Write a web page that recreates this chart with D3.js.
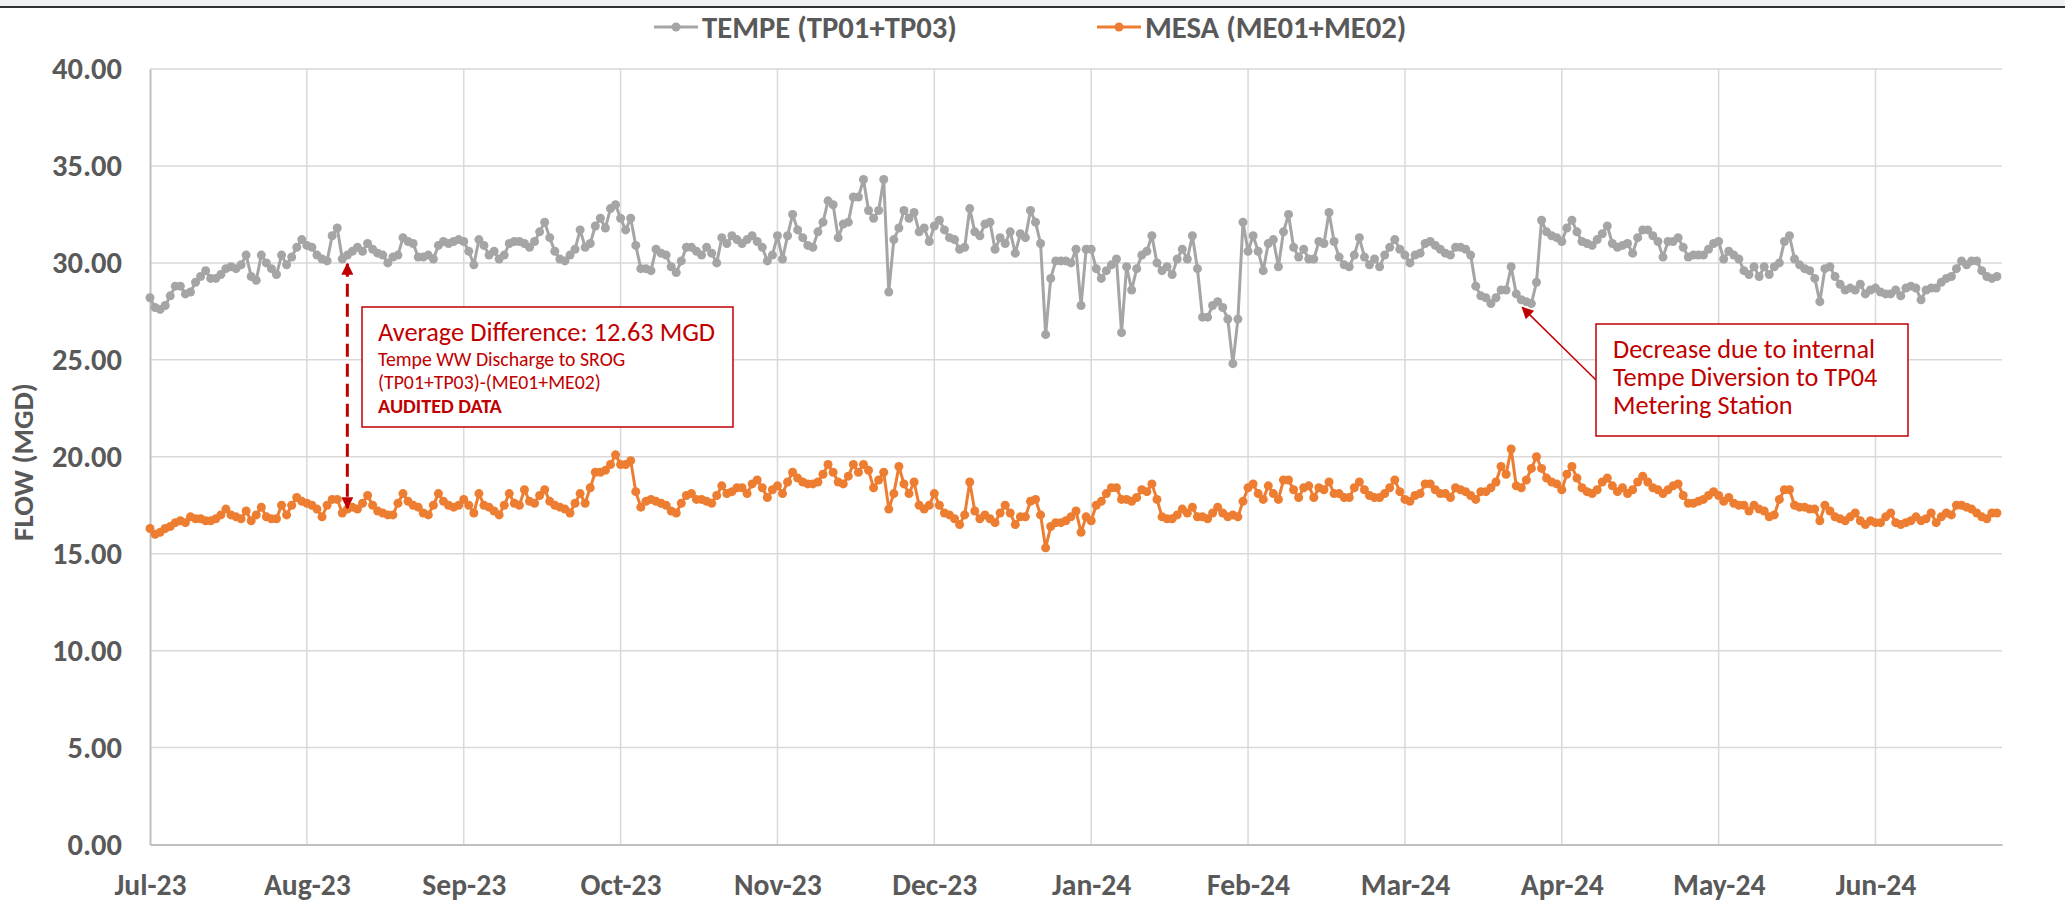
<!DOCTYPE html>
<html>
<head>
<meta charset="utf-8">
<script src="https://cdn.jsdelivr.net/npm/d3@7"></script>
<style>
  body { margin: 0; background: #fff; }
  svg { display: block; }
</style>
</head>
<body>
<div id="chart"></div>
<script>
// daily flows, Jul 1 2023 .. Jun 30 2024 (MGD)
const startDate = new Date(2023, 6, 1);
const endDate = new Date(2024, 6, 1);

const tempeFlow = [
  28.2, 27.7, 27.6, 27.8, 28.3, 28.8, 28.8, 28.4, 28.5, 29.0,
  29.3, 29.6, 29.2, 29.2, 29.4, 29.7, 29.8, 29.7, 29.9, 30.4,
  29.3, 29.1, 30.4, 30.0, 29.7, 29.4, 30.4, 29.9, 30.3, 30.8,
  31.2, 30.9, 30.8, 30.4, 30.2, 30.1, 31.4, 31.8, 30.2, 30.4,
  30.6, 30.8, 30.6, 31.0, 30.7, 30.5, 30.4, 30.0, 30.3, 30.4,
  31.3, 31.1, 31.0, 30.3, 30.3, 30.4, 30.2, 30.9, 31.1, 31.0,
  31.1, 31.2,
  31.1, 30.6, 29.9, 31.2, 30.9, 30.4, 30.6, 30.2, 30.4, 31.0,
  31.1, 31.1, 31.0, 30.8, 31.1, 31.6, 32.1, 31.3, 30.6, 30.2,
  30.1, 30.4, 30.7, 31.7, 30.8, 31.0, 31.9, 32.3, 31.8, 32.8,
  33.0, 32.3, 31.7, 32.3, 30.9, 29.7, 29.7, 29.6, 30.7, 30.5,
  30.4, 29.8, 29.5, 30.1, 30.8, 30.8, 30.6, 30.4, 30.8, 30.5,
  30.0, 31.3, 31.0, 31.4, 31.2, 31.0, 31.2, 31.4, 31.1, 30.8,
  30.1,
  30.4, 31.4, 30.2, 31.4, 32.5, 31.7, 31.3, 30.9, 30.8, 31.6,
  32.1, 33.2, 33.0, 31.3, 32.0, 32.1, 33.4, 33.4, 34.3, 32.7,
  32.3, 32.7, 34.3, 28.5, 31.2, 31.8, 32.7, 32.3, 32.6, 31.6,
  31.8, 31.1, 31.9, 32.2, 31.7, 31.3, 31.2, 30.7, 30.8, 32.8,
  31.6, 31.4, 32.0, 32.1, 30.7, 31.3, 31.0, 31.6, 30.5, 31.5,
  31.3, 32.7, 32.1, 31.0, 26.3, 29.2, 30.1, 30.1, 30.1, 30.0,
  30.7,
  27.8, 30.7, 30.7, 29.7, 29.2, 29.6, 29.9, 30.2, 26.4, 29.8,
  28.6, 29.7, 30.4, 30.6, 31.4, 30.0, 29.6, 29.8, 29.4, 30.2,
  30.7, 30.2, 31.4, 29.7, 27.2, 27.2, 27.8, 28.0, 27.7, 27.1,
  24.8, 27.1, 32.1, 30.6, 31.4, 30.6, 29.6, 31.0, 31.2, 29.8,
  31.6, 32.5, 30.8, 30.3, 30.7, 30.2, 30.2, 31.1, 31.0, 32.6,
  31.1, 30.3, 29.9, 29.8, 30.4, 31.3, 30.3, 29.9, 30.2, 29.8,
  30.4, 30.8,
  31.2, 30.7, 30.4, 30.0, 30.4, 30.5, 31.0, 31.1, 30.9, 30.7,
  30.5, 30.4, 30.8, 30.8, 30.7, 30.4, 28.8, 28.3, 28.2, 27.9,
  28.2, 28.6, 28.6, 29.8, 28.4, 28.1, 28.0, 27.9, 29.0, 32.2,
  31.6, 31.4, 31.3, 31.1, 31.8, 32.2, 31.6, 31.1, 31.0, 30.9,
  31.2, 31.5, 31.9, 31.0, 30.8, 30.9, 31.0, 30.5, 31.3, 31.7,
  31.7, 31.4, 31.1, 30.3, 31.1, 31.1, 31.3, 30.8, 30.3, 30.4,
  30.4,
  30.4, 30.7, 31.0, 31.1, 30.2, 30.6, 30.4, 30.2, 29.6, 29.4,
  29.8, 29.3, 29.8, 29.4, 29.8, 30.0, 31.1, 31.4, 30.2, 29.9,
  29.7, 29.6, 29.2, 28.0, 29.7, 29.8, 29.3, 28.9, 28.6, 28.7,
  28.6, 28.9, 28.4, 28.6, 28.7, 28.5, 28.4, 28.4, 28.6, 28.3,
  28.7, 28.8, 28.7, 28.1, 28.6, 28.7, 28.7, 29.0, 29.2, 29.3,
  29.7, 30.1, 29.9, 30.1, 30.1, 29.6, 29.3, 29.2, 29.3
];

const mesaFlow = [
  16.3, 16.0, 16.1, 16.3, 16.4, 16.6, 16.7, 16.6, 16.9, 16.8,
  16.8, 16.7, 16.7, 16.8, 17.0, 17.3, 17.0, 16.9, 16.8, 17.2,
  16.7, 17.0, 17.4, 16.9, 16.8, 16.8, 17.5, 17.0, 17.5, 17.9,
  17.7, 17.6, 17.5, 17.3, 16.9, 17.5, 17.8, 17.8, 17.1, 17.3,
  17.4, 17.3, 17.6, 18.0, 17.5, 17.2, 17.1, 17.0, 17.0, 17.6,
  18.1, 17.7, 17.5, 17.4, 17.1, 17.0, 17.5, 18.1, 17.7, 17.5,
  17.4, 17.5,
  17.8, 17.5, 17.1, 18.1, 17.5, 17.4, 17.2, 17.0, 17.5, 18.1,
  17.6, 17.5, 18.3, 17.7, 17.6, 18.0, 18.3, 17.7, 17.5, 17.4,
  17.3, 17.1, 17.6, 18.1, 17.6, 18.4, 19.2, 19.2, 19.3, 19.6,
  20.1, 19.6, 19.6, 19.8, 18.2, 17.4, 17.7, 17.8, 17.7, 17.6,
  17.5, 17.2, 17.1, 17.6, 18.0, 18.1, 17.8, 17.8, 17.7, 17.6,
  18.0, 18.5, 18.1, 18.2, 18.4, 18.4, 18.1, 18.6, 18.8, 18.4,
  17.9,
  18.3, 18.5, 18.1, 18.7, 19.2, 18.9, 18.7, 18.6, 18.6, 18.7,
  19.1, 19.6, 19.2, 18.7, 18.6, 19.0, 19.6, 19.2, 19.6, 19.3,
  18.4, 18.8, 19.2, 17.3, 18.1, 19.5, 18.6, 18.1, 18.7, 17.5,
  17.3, 17.5, 18.1, 17.5, 17.1, 17.0, 16.8, 16.5, 17.0, 18.7,
  17.2, 16.8, 17.0, 16.8, 16.6, 17.1, 17.5, 17.1, 16.5, 16.9,
  16.9, 17.7, 17.8, 17.0, 15.3, 16.4, 16.6, 16.6, 16.7, 16.9,
  17.2,
  16.1, 16.9, 16.7, 17.5, 17.7, 18.1, 18.4, 18.4, 17.8, 17.8,
  17.7, 17.9, 18.3, 18.2, 18.6, 17.8, 16.9, 16.8, 16.8, 17.0,
  17.3, 17.1, 17.4, 16.9, 16.9, 16.8, 17.1, 17.4, 17.1, 16.9,
  17.0, 16.9, 17.7, 18.4, 18.6, 18.1, 17.8, 18.5, 18.1, 17.8,
  18.8, 18.8, 18.3, 17.9, 18.4, 18.5, 17.9, 18.4, 18.3, 18.7,
  18.1, 18.1, 17.9, 17.9, 18.4, 18.7, 18.3, 18.0, 17.9, 17.9,
  18.1, 18.4,
  18.8, 18.2, 17.8, 17.7, 18.0, 18.1, 18.6, 18.6, 18.3, 18.1,
  18.1, 17.9, 18.4, 18.3, 18.2, 18.0, 17.8, 18.2, 18.2, 18.4,
  18.7, 19.5, 19.1, 20.4, 18.5, 18.4, 18.8, 19.4, 20.0, 19.4,
  18.9, 18.7, 18.6, 18.3, 19.1, 19.5, 18.9, 18.4, 18.2, 18.1,
  18.3, 18.7, 18.9, 18.5, 18.2, 18.4, 18.1, 18.3, 18.7, 19.0,
  18.7, 18.4, 18.3, 18.1, 18.3, 18.5, 18.6, 18.0, 17.6, 17.6,
  17.7,
  17.8, 18.0, 18.2, 18.0, 17.7, 17.9, 17.6, 17.5, 17.5, 17.2,
  17.5, 17.3, 17.2, 16.9, 17.0, 17.8, 18.3, 18.3, 17.5, 17.4,
  17.4, 17.3, 17.3, 16.7, 17.5, 17.2, 16.9, 16.8, 16.7, 16.9,
  17.1, 16.7, 16.5, 16.7, 16.6, 16.6, 16.9, 17.1, 16.6, 16.5,
  16.6, 16.7, 16.9, 16.7, 16.8, 17.1, 16.6, 16.9, 17.1, 17.0,
  17.5, 17.5, 17.4, 17.3, 17.1, 16.9, 16.8, 17.1, 17.1
];

// category axis labels every 31 days
const tickDates = [
  "2023-07-01", "2023-08-01", "2023-09-01", "2023-10-02", "2023-11-02", "2023-12-03",
  "2024-01-03", "2024-02-03", "2024-03-05", "2024-04-05", "2024-05-06", "2024-06-06"
];
const yTicks = [0, 5, 10, 15, 20, 25, 30, 35, 40];

const seriesNames = ["TEMPE (TP01+TP03)", "MESA (ME01+ME02)"];
const seriesColors = ["#a5a5a5", "#ed7d31"];

const avgNote = ["Average Difference: 12.63 MGD", "Tempe WW Discharge to SROG", "(TP01+TP03)-(ME01+ME02)", "AUDITED DATA"];
const diversionNote = ["Decrease due to internal", "Tempe Diversion to TP04", "Metering Station"];

const W = 2065, H = 904;
const plot = { left: 150, right: 2002, top: 69, bottom: 844.5 };
const font = "Carlito, Lato, sans-serif";
const labelColor = "#595959";
const noteColor = "#c00000";

const parseDay = d3.timeParse("%Y-%m-%d");
const dayOf = i => d3.timeDay.offset(startDate, i);

const x = d3.scaleTime().domain([startDate, endDate]).range([plot.left, plot.right]);
const y = d3.scaleLinear().domain([0, 40]).range([plot.bottom, plot.top]);

const svg = d3.select("#chart").append("svg")
  .attr("width", W)
  .attr("height", H);

// pick a font size so that a string comes out at the width it has in the original
function fitSize(str, weight, target) {
  const t = svg.append("text")
    .style("font-family", font)
    .style("font-weight", weight)
    .style("font-size", "100px")
    .text(str);
  const w = t.node().getComputedTextLength();
  t.remove();
  return +(100 * target / w).toFixed(1);
}

const xTickSize = fitSize("Jul-23", 700, 72);
const yTickSize = fitSize("40.00", 700, 70);
const legendSize = fitSize(seriesNames[0], 700, 255);
const titleSize = fitSize("FLOW (MGD)", 700, 158);
const noteBigSize = fitSize(avgNote[0], 400, 337);
const noteSmallSize = fitSize(avgNote[1], 400, 248);
const noteBoldSize = fitSize(avgNote[3], 700, 124);
const note2Size = fitSize(diversionNote[0], 400, 262);

// top strip
svg.append("rect").attr("x", 0).attr("y", 0).attr("width", W).attr("height", 6).attr("fill", "#eef2f5");
svg.append("line").attr("x1", 0).attr("x2", W).attr("y1", 7).attr("y2", 7)
  .attr("stroke", "#333").attr("stroke-width", 2);

// gridlines
svg.append("g")
  .selectAll("line")
  .data(yTicks.filter(d => d > 0))
  .join("line")
  .attr("x1", plot.left).attr("x2", plot.right)
  .attr("y1", d => y(d)).attr("y2", d => y(d))
  .attr("stroke", "#d9d9d9").attr("stroke-width", 1.5);

svg.append("g")
  .selectAll("line")
  .data(tickDates.slice(1).map(parseDay))
  .join("line")
  .attr("x1", d => x(d)).attr("x2", d => x(d))
  .attr("y1", plot.top).attr("y2", plot.bottom)
  .attr("stroke", "#d9d9d9").attr("stroke-width", 1.5);

// axes
const yAxis = svg.append("g")
  .attr("transform", `translate(${plot.left},0)`)
  .call(d3.axisLeft(y).tickValues(yTicks).tickFormat(d3.format(".2f")).tickSize(0).tickPadding(28));
yAxis.select(".domain").attr("stroke", "#bfbfbf").attr("stroke-width", 2);
yAxis.selectAll(".tick text")
  .attr("fill", labelColor)
  .style("font-family", font)
  .style("font-size", yTickSize + "px")
  .style("font-weight", 700);

const xAxis = svg.append("g")
  .attr("transform", `translate(0,${plot.bottom})`)
  .call(d3.axisBottom(x).tickValues(tickDates.map(parseDay)).tickFormat(d3.timeFormat("%b-%y")).tickSize(0).tickPadding(29));
xAxis.select(".domain").attr("stroke", "#bfbfbf").attr("stroke-width", 2);
xAxis.selectAll(".tick text")
  .attr("fill", labelColor)
  .style("font-family", font)
  .style("font-size", xTickSize + "px")
  .style("font-weight", 700);

svg.append("text")
  .attr("transform", `translate(33,462) rotate(-90)`)
  .attr("text-anchor", "middle")
  .attr("fill", labelColor)
  .style("font-family", font)
  .style("font-size", titleSize + "px")
  .style("font-weight", 700)
  .text("FLOW (MGD)");

// series
const series = [tempeFlow, mesaFlow];
const line = d3.line()
  .x((d, i) => x(dayOf(i)))
  .y(d => y(d));

series.forEach((values, k) => {
  const g = svg.append("g");
  g.append("path")
    .datum(values)
    .attr("d", line)
    .attr("fill", "none")
    .attr("stroke", seriesColors[k])
    .attr("stroke-width", 3)
    .attr("stroke-linejoin", "round");
  g.selectAll("circle")
    .data(values)
    .join("circle")
    .attr("cx", (d, i) => x(dayOf(i)))
    .attr("cy", d => y(d))
    .attr("r", 4.5)
    .attr("fill", seriesColors[k]);
});

// legend
const legendX = [654, 1097];
legendX.forEach((lx, k) => {
  const lg = svg.append("g").attr("transform", `translate(${lx},27)`);
  lg.append("line").attr("x1", 0).attr("x2", 44).attr("stroke", seriesColors[k]).attr("stroke-width", 3);
  lg.append("circle").attr("cx", 22).attr("r", 4.5).attr("fill", seriesColors[k]);
  lg.append("text")
    .attr("x", 48)
    .attr("dy", "0.35em")
    .attr("fill", labelColor)
    .style("font-family", font)
    .style("font-size", legendSize + "px")
    .style("font-weight", 700)
    .text(seriesNames[k]);
});

// arrow markers
const defs = svg.append("defs");
defs.append("marker")
  .attr("id", "arrow")
  .attr("viewBox", "0 0 10 10")
  .attr("refX", 9).attr("refY", 5)
  .attr("markerWidth", 4).attr("markerHeight", 4)
  .attr("markerUnits", "strokeWidth")
  .attr("orient", "auto-start-reverse")
  .append("path").attr("d", "M0,0L10,5L0,10z").attr("fill", noteColor);
defs.append("marker")
  .attr("id", "arrowThin")
  .attr("viewBox", "0 0 10 10")
  .attr("refX", 9).attr("refY", 5)
  .attr("markerWidth", 9).attr("markerHeight", 8)
  .attr("markerUnits", "strokeWidth")
  .attr("orient", "auto")
  .append("path").attr("d", "M0,0L10,5L0,10z").attr("fill", noteColor);

// average difference annotation
const arrowDay = dayOf(39);
svg.append("line")
  .attr("x1", x(arrowDay)).attr("x2", x(arrowDay))
  .attr("y1", y(29.95)).attr("y2", y(17.35))
  .attr("stroke", noteColor)
  .attr("stroke-width", 3)
  .attr("stroke-dasharray", "13,7")
  .attr("marker-start", "url(#arrow)")
  .attr("marker-end", "url(#arrow)");

const box1 = svg.append("g").attr("transform", "translate(362,307)");
box1.append("rect").attr("width", 371).attr("height", 120)
  .attr("fill", "#fff").attr("stroke", noteColor).attr("stroke-width", 1.5);
const lines1 = [
  { dy: 34, size: noteBigSize, weight: 400 },
  { dy: 59, size: noteSmallSize, weight: 400 },
  { dy: 82, size: noteSmallSize, weight: 400 },
  { dy: 106, size: noteBoldSize, weight: 700 }
];
box1.selectAll("text")
  .data(avgNote)
  .join("text")
  .attr("x", 16)
  .attr("y", (d, i) => lines1[i].dy)
  .attr("fill", noteColor)
  .style("font-family", font)
  .style("font-size", (d, i) => lines1[i].size + "px")
  .style("font-weight", (d, i) => lines1[i].weight)
  .text(d => d);

// diversion annotation
svg.append("line")
  .attr("x1", 1596).attr("y1", 380)
  .attr("x2", x(dayOf(271)) + 1).attr("y2", y(27.7))
  .attr("stroke", noteColor)
  .attr("stroke-width", 1.5)
  .attr("marker-end", "url(#arrowThin)");

const box2 = svg.append("g").attr("transform", "translate(1596,324)");
box2.append("rect").attr("width", 312).attr("height", 112)
  .attr("fill", "#fff").attr("stroke", noteColor).attr("stroke-width", 1.5);
box2.selectAll("text")
  .data(diversionNote)
  .join("text")
  .attr("x", 17)
  .attr("y", (d, i) => 34 + i * 28)
  .attr("fill", noteColor)
  .style("font-family", font)
  .style("font-size", note2Size + "px")
  .text(d => d);
</script>
</body>
</html>
